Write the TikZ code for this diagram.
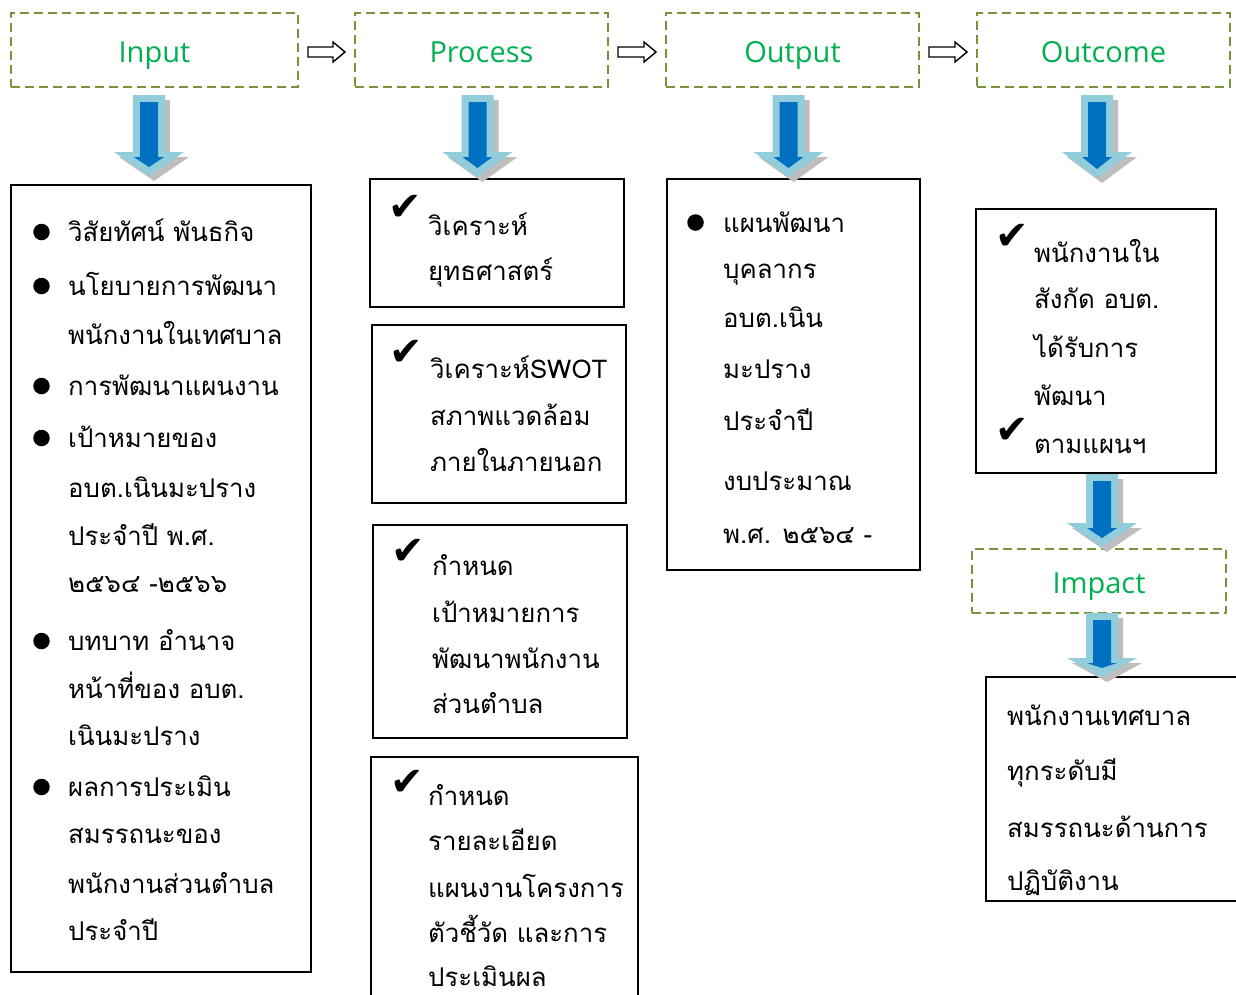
\documentclass[tikz,border=0pt]{standalone}
\usepackage{fontspec}
\setmainfont{Open Sans}
\newfontfamily\thaifont[Script=Thai]{Loma}
\newfontfamily\symfont{DejaVu Sans}
\usetikzlibrary{calc}
\definecolor{dashgreen}{RGB}{119,147,60}
\definecolor{labgreen}{RGB}{0,176,80}
\definecolor{lightblue}{RGB}{146,205,220}
\definecolor{darkblue}{RGB}{0,112,192}
\definecolor{shadowgray}{RGB}{190,190,190}
\tikzset{
  dbox/.style={draw=dashgreen, line width=1.6pt, dash pattern=on 9pt off 5pt, text=labgreen,
    font=\fontsize{29}{34}\selectfont, inner sep=0pt, outer sep=0pt, text height=24pt, text depth=0pt},
  sbox/.style={draw=black, line width=1.6pt, inner sep=0pt, outer sep=0pt},
  thtxt/.style={anchor=base west, inner sep=0pt, font=\thaifont\fontsize{25.8}{34}\selectfont},
  chk/.style={inner sep=0pt, font=\symfont\fontsize{40}{44}\selectfont},
  bul/.style={circle, fill=black, inner sep=0pt, minimum size=16.5pt},
  hollow/.style={draw=black, line width=1.4pt, fill=white, line join=miter},
}
% blue block arrow: cx, top, headtop, tip
\newcommand\bluearrow[4]{%
  \fill[shadowgray] ({#1-16+5},{#2+5}) -- ({#1+16+5},{#2+5}) -- ({#1+16+5},{#3+5}) -- ({#1+35+5},{#3+5})
     -- ({#1+5},{#4+5}) -- ({#1-35+5},{#3+5}) -- ({#1-16+5},{#3+5}) -- cycle;
  \fill[lightblue] ({#1-16},{#2}) -- ({#1+16},{#2}) -- ({#1+16},{#3}) -- ({#1+35},{#3})
     -- ({#1},{#4}) -- ({#1-35},{#3}) -- ({#1-16},{#3}) -- cycle;
  \fill[darkblue] ({#1-9},{#2+7}) -- ({#1+9},{#2+7}) -- ({#1+9},{#3+5}) -- ({#1+15},{#3+5})
     -- ({#1},{#4-9}) -- ({#1-15},{#3+5}) -- ({#1-9},{#3+5}) -- cycle;
}
\begin{document}
\begin{tikzpicture}[x=1pt,y=-1pt]
\useasboundingbox (0,0) rectangle (1236,994);
\fill[white] (0,0) rectangle (1236,994);

% dashed headline boxes
\node[dbox, minimum width=287pt, minimum height=74pt] (in)   at (154.5,50) {Input};
\node[dbox, minimum width=253pt, minimum height=74pt] (proc) at (481.5,50) {Process};
\node[dbox, minimum width=253pt, minimum height=74pt] (out)  at (792.5,50) {Output};
\node[dbox, minimum width=253pt, minimum height=74pt] (outc) at (1103.5,50) {Outcome};
\node[dbox, minimum width=254pt, minimum height=64pt] (imp)  at (1099,581) {Impact};

% hollow arrows between headline boxes
\foreach \a/\b in {in/proc, proc/out, out/outc}{
  \path ($(\a.east)+(10,2)$) coordinate (s-\a) ($(\b.west)+(-10,2)$) coordinate (e-\a);
  \draw[hollow] ($(s-\a)+(0,-5)$) -- ($(e-\a)+(-12,-5)$) -- ($(e-\a)+(-12,-10)$) -- (e-\a)
     -- ($(e-\a)+(-12,10)$) -- ($(e-\a)+(-12,5)$) -- ($(s-\a)+(0,5)$) -- cycle;
}

% solid content boxes
\node[sbox, minimum width=300pt, minimum height=787pt] (inb) at (161,578.5) {};
\node[sbox, minimum width=254pt, minimum height=128pt] (p1) at (497,243) {};
\node[sbox, minimum width=254pt, minimum height=178pt] (p2) at (499,414) {};
\node[sbox, minimum width=254pt, minimum height=213pt] (p3) at (500,631.5) {};
\node[sbox, minimum width=267pt, minimum height=243pt] (p4) at (504.5,878.5) {};
\node[sbox, minimum width=253pt, minimum height=391pt] (ob) at (793.5,374.5) {};
\node[sbox, minimum width=240pt, minimum height=264pt] (ocb) at (1096,341) {};
\node[sbox, minimum width=259pt, minimum height=224pt] (ib) at (1115.5,789) {};

% blue arrows
\bluearrow{149}{95}{152}{176}
\bluearrow{477.5}{95}{152}{177}
\bluearrow{788.5}{95}{152}{177}
\bluearrow{1097}{95}{152}{178}
\bluearrow{1102}{474}{523}{547}
\bluearrow{1102}{613}{658}{677}

% Input box text
\foreach \y/\t in {241/วิสัยทัศน์ พันธกิจ, 295/นโยบายการพัฒนา, 344/พนักงานในเทศบาล,
  395/การพัฒนาแผนงาน, 447/เป้าหมายของ, 497/อบต.เนินมะปราง, 545/ประจำปี พ.ศ.,
  592/๒๕๖๔ -๒๕๖๖, 650/บทบาท อำนาจ, 698/หน้าที่ของ อบต., 745/เนินมะปราง,
  796/ผลการประเมิน, 843/สมรรถนะของ, 893/พนักงานส่วนตำบล, 940/ประจำปี}
  \node[thtxt] (inl\y) at (68,\y) {\t};
\foreach \y in {241,295,395,447,650,796}
  \node[bul] (inbul\y) at (41.5,{\y-9}) {};

% Process boxes text
\node[chk] (c1) at (405,208) {✔};
\foreach \y/\t in {235/วิเคราะห์, 280/ยุทธศาสตร์}
  \node[thtxt] (p1l\y) at (428,\y) {\t};
\node[chk] (c2) at (406.5,353) {✔};
\foreach \y/\t in {378/วิเคราะห์SWOT, 425/สภาพแวดล้อม, 471/ภายในภายนอก}
  \node[thtxt] (p2l\y) at (430,\y) {\t};
\node[chk] (c3) at (408.5,552) {✔};
\foreach \y/\t in {575/กำหนด, 622/เป้าหมายการ, 668/พัฒนาพนักงาน, 713/ส่วนตำบล}
  \node[thtxt] (p3l\y) at (432,\y) {\t};
\node[chk] (c4) at (407.5,782.5) {✔};
\foreach \y/\t in {805/กำหนด, 850/รายละเอียด, 897/แผนงานโครงการ, 942/ตัวชี้วัด และการ, 986/ประเมินผล}
  \node[thtxt] (p4l\y) at (428,\y) {\t};

% Output text
\node[bul] (obul) at (695.5,222.5) {};
\foreach \y/\t in {232/แผนพัฒนา, 278/บุคลากร, 327/อบต.เนิน, 378/มะปราง, 430/ประจำปี,
  490/งบประมาณ, 543/พ.ศ. ๒๕๖๔ -}
  \node[thtxt] (ol\y) at (723,\y) {\t};

% Outcome text
\node[chk] (c5) at (1012.5,237) {✔};
\node[chk] (c6) at (1012.5,431) {✔};
\foreach \y/\t in {262/พนักงานใน, 308/สังกัด อบต., 357/ได้รับการ, 405/พัฒนา, 453/ตามแผนฯ}
  \node[thtxt] (ocl\y) at (1034,\y) {\t};

% Impact text
\foreach \y/\t in {725/พนักงานเทศบาล, 780/ทุกระดับมี, 837/สมรรถนะด้านการ, 890/ปฏิบัติงาน}
  \node[thtxt] (il\y) at (1007,\y) {\t};
\end{tikzpicture}
\end{document}
